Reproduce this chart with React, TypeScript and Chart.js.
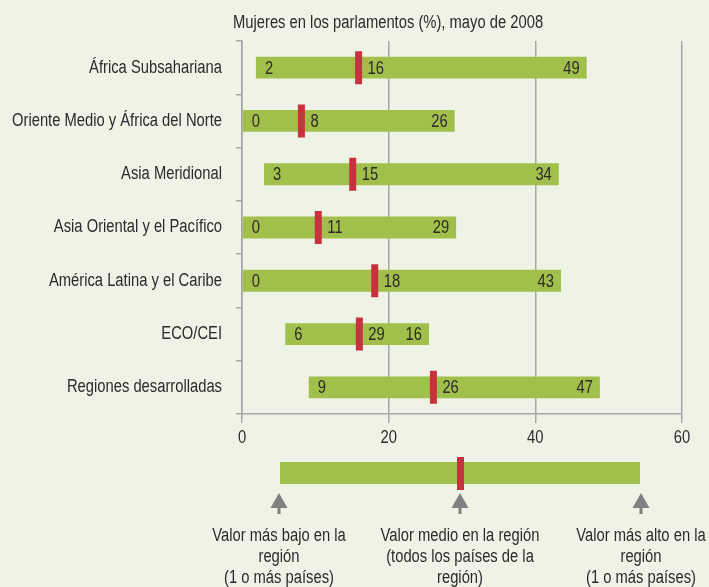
import React, { useEffect, useRef } from "react";
import { Chart, registerables } from "chart.js";

Chart.register(...registerables);

const categories = [
  "África Subsahariana",
  "Oriente Medio y África del Norte",
  "Asia Meridional",
  "Asia Oriental y el Pacífico",
  "América Latina y el Caribe",
  "ECO/CEI",
  "Regiones desarrolladas",
];
const lowValues = [1.9, 0, 3.0, 0, 0, 5.9, 9.1];
const highValues = [47.0, 29.0, 43.2, 29.2, 43.5, 25.5, 48.8];
const meanValues = [15.9, 8.1, 15.1, 10.4, 18.1, 16.0, 26.1];
const lowLabels = ["2", "0", "3", "0", "0", "6", "9"];
const meanLabels = ["16", "8", "15", "11", "18", "29", "26"];
const highLabels = ["49", "26", "34", "29", "43", "16", "47"];
const xTicks = [0, 20, 40, 60];

const TITLE = "Mujeres en los parlamentos (%), mayo de 2008";
const KEY_TEXTS = [
  ["Valor más bajo en la", "región", "(1 o más países)"],
  ["Valor medio en la región", "(todos los países de la", "región)"],
  ["Valor más alto en la", "región", "(1 o más países)"],
];

const FONT = '18px "Liberation Sans", Arial, sans-serif';
const NARROW = 0.82;
const BG = "#eff3e6";
const GREEN = "#a0c04b";
const RED = "#c8323f";
const GRID = "#a6a6a6";
const TEXT = "#2b2b2b";
const ARROW = "#808080";

function narrowText(ctx: CanvasRenderingContext2D, text: string, x: number, y: number, align: CanvasTextAlign) {
  ctx.save();
  ctx.translate(x, y);
  ctx.scale(NARROW, 1);
  ctx.font = FONT;
  ctx.fillStyle = TEXT;
  ctx.textBaseline = "middle";
  ctx.textAlign = align;
  ctx.fillText(text, 0, 0);
  ctx.restore();
}

const labelsPlugin = {
  id: "valueLabels",
  afterDatasetsDraw(chart: any) {
    const ctx = chart.ctx;
    const barMeta = chart.getDatasetMeta(1);
    const meanMeta = chart.getDatasetMeta(0);
    barMeta.data.forEach((bar: any, i: number) => {
      const start = Math.min(bar.x, bar.base);
      const end = Math.max(bar.x, bar.base);
      const y = bar.y + 1;
      narrowText(ctx, lowLabels[i], start + 9, y, "left");
      narrowText(ctx, meanLabels[i], meanMeta.data[i].x + 9, y, "left");
      narrowText(ctx, highLabels[i], end - 7, y, "right");
    });
  },
  afterDraw(chart: any) {
    const ctx = chart.ctx;
    const xs = chart.scales.x;
    const ys = chart.scales.y;
    // axis labels
    categories.forEach((c, i) => {
      narrowText(ctx, c, ys.right - 20, ys.getPixelForTick(i), "right");
    });
    xTicks.forEach((v) => {
      narrowText(ctx, String(v), xs.getPixelForValue(v), xs.top + 24, "center");
    });
    narrowText(ctx, TITLE, 233, 23, "left");

    // key
    ctx.save();
    ctx.fillStyle = GREEN;
    ctx.fillRect(280, 462, 360, 22);
    ctx.fillStyle = RED;
    ctx.fillRect(457, 457, 7, 33);
    const arrowX = [279, 460, 641];
    ctx.fillStyle = ARROW;
    arrowX.forEach((ax) => {
      ctx.beginPath();
      ctx.moveTo(ax, 493);
      ctx.lineTo(ax + 8.5, 508);
      ctx.lineTo(ax - 8.5, 508);
      ctx.closePath();
      ctx.fill();
      ctx.fillRect(ax - 1.5, 507, 3, 7);
    });
    ctx.restore();
    KEY_TEXTS.forEach((lines, k) => {
      lines.forEach((line, j) => {
        narrowText(ctx, line, arrowX[k], 536 + j * 21, "center");
      });
    });
  },
};

export default function App() {
  const ref = useRef<HTMLCanvasElement>(null);
  useEffect(() => {
    if (!ref.current) return;
    const chart = new Chart(ref.current, {
      type: "bar",
      data: {
        labels: categories,
        datasets: [
          {
            type: "line",
            data: meanValues,
            showLine: false,
            pointStyle: "line",
            rotation: 90,
            radius: 16.5,
            borderWidth: 7,
            borderColor: RED,
            backgroundColor: RED,
            order: 0,
          } as any,
          {
            type: "bar",
            data: lowValues.map((v, i) => [v, highValues[i]]),
            backgroundColor: GREEN,
            borderWidth: 0,
            barPercentage: 0.41,
            categoryPercentage: 1,
            order: 1,
          },
        ],
      },
      options: {
        indexAxis: "y",
        responsive: false,
        animation: false,
        events: [],
        layout: { padding: { top: 41, right: 27, left: 0, bottom: 0 } },
        plugins: { legend: { display: false }, tooltip: { enabled: false }, title: { display: false } },
        scales: {
          x: {
            type: "linear",
            min: 0,
            max: 60,
            afterBuildTicks: (s: any) => {
              s.ticks = xTicks.map((v) => ({ value: v }));
            },
            afterFit: (s: any) => {
              s.height = 173;
            },
            grid: { color: GRID, lineWidth: 1.5, tickLength: 9, drawTicks: true },
            border: { display: true, color: GRID, width: 1.5 },
            ticks: { display: false },
          },
          y: {
            type: "category",
            offset: true,
            afterFit: (s: any) => {
              s.width = 242;
            },
            grid: { display: true, drawOnChartArea: false, offset: true, color: GRID, lineWidth: 1.5, tickLength: 6 },
            border: { display: true, color: GRID, width: 1.5 },
            ticks: { display: false },
          },
        },
      },
      plugins: [labelsPlugin],
    });
    return () => chart.destroy();
  }, []);
  return (
    <div style={{ position: "absolute", left: 0, top: 0, width: 709, height: 587, background: BG }}>
      <canvas ref={ref} width={709} height={587} style={{ display: "block" }} />
    </div>
  );
}
